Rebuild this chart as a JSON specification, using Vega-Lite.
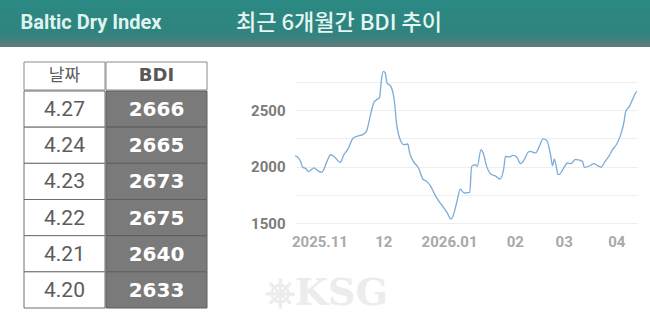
{
  "$schema": "https://vega.github.io/schema/vega-lite/v6.json",
  "padding": 0,
  "background": "white",
  "spacing": 15,
  "bounds": "flush",
  "config": {"view": {"stroke": null}},
  "datasets": {
    "table": [
      {"date": "4.27", "bdi": 2666},
      {"date": "4.24", "bdi": 2665},
      {"date": "4.23", "bdi": 2673},
      {"date": "4.22", "bdi": 2675},
      {"date": "4.21", "bdi": 2640},
      {"date": "4.20", "bdi": 2633}
    ],
    "bdi": [
      {"date": "2025-10-27", "bdi": 2097},
      {"date": "2025-10-28", "bdi": 2090},
      {"date": "2025-10-30", "bdi": 2046},
      {"date": "2025-10-31", "bdi": 1996},
      {"date": "2025-11-02", "bdi": 1979},
      {"date": "2025-11-03", "bdi": 1955},
      {"date": "2025-11-04", "bdi": 1964},
      {"date": "2025-11-06", "bdi": 1988},
      {"date": "2025-11-08", "bdi": 1966},
      {"date": "2025-11-10", "bdi": 1949},
      {"date": "2025-11-11", "bdi": 1964},
      {"date": "2025-11-13", "bdi": 2046},
      {"date": "2025-11-15", "bdi": 2105},
      {"date": "2025-11-17", "bdi": 2085},
      {"date": "2025-11-20", "bdi": 2037},
      {"date": "2025-11-22", "bdi": 2105},
      {"date": "2025-11-24", "bdi": 2150},
      {"date": "2025-11-27", "bdi": 2253},
      {"date": "2025-11-30", "bdi": 2274},
      {"date": "2025-12-02", "bdi": 2283},
      {"date": "2025-12-04", "bdi": 2312},
      {"date": "2025-12-06", "bdi": 2445},
      {"date": "2025-12-08", "bdi": 2569},
      {"date": "2025-12-10", "bdi": 2599},
      {"date": "2025-12-11", "bdi": 2613},
      {"date": "2025-12-12", "bdi": 2770},
      {"date": "2025-12-13", "bdi": 2844},
      {"date": "2025-12-14", "bdi": 2830},
      {"date": "2025-12-15", "bdi": 2741},
      {"date": "2025-12-17", "bdi": 2711},
      {"date": "2025-12-19", "bdi": 2564},
      {"date": "2025-12-20", "bdi": 2387},
      {"date": "2025-12-22", "bdi": 2238},
      {"date": "2025-12-24", "bdi": 2194},
      {"date": "2025-12-26", "bdi": 2200},
      {"date": "2025-12-27", "bdi": 2121},
      {"date": "2025-12-29", "bdi": 2046},
      {"date": "2026-01-01", "bdi": 1979},
      {"date": "2026-01-03", "bdi": 1890},
      {"date": "2026-01-05", "bdi": 1869},
      {"date": "2026-01-07", "bdi": 1831},
      {"date": "2026-01-09", "bdi": 1766},
      {"date": "2026-01-11", "bdi": 1707},
      {"date": "2026-01-13", "bdi": 1662},
      {"date": "2026-01-16", "bdi": 1589},
      {"date": "2026-01-18", "bdi": 1535},
      {"date": "2026-01-19", "bdi": 1559},
      {"date": "2026-01-21", "bdi": 1677},
      {"date": "2026-01-23", "bdi": 1801},
      {"date": "2026-01-25", "bdi": 1766},
      {"date": "2026-01-28", "bdi": 1771},
      {"date": "2026-01-29", "bdi": 2002},
      {"date": "2026-01-31", "bdi": 2017},
      {"date": "2026-02-01", "bdi": 2002},
      {"date": "2026-02-03", "bdi": 2150},
      {"date": "2026-02-04", "bdi": 2126},
      {"date": "2026-02-06", "bdi": 2002},
      {"date": "2026-02-08", "bdi": 1937},
      {"date": "2026-02-11", "bdi": 1913},
      {"date": "2026-02-13", "bdi": 1890},
      {"date": "2026-02-15", "bdi": 1973},
      {"date": "2026-02-16", "bdi": 2090},
      {"date": "2026-02-18", "bdi": 2085},
      {"date": "2026-02-20", "bdi": 2099},
      {"date": "2026-02-22", "bdi": 2085},
      {"date": "2026-02-24", "bdi": 2026},
      {"date": "2026-02-26", "bdi": 2061},
      {"date": "2026-02-28", "bdi": 2126},
      {"date": "2026-03-01", "bdi": 2135},
      {"date": "2026-03-04", "bdi": 2121},
      {"date": "2026-03-06", "bdi": 2179},
      {"date": "2026-03-08", "bdi": 2245},
      {"date": "2026-03-10", "bdi": 2232},
      {"date": "2026-03-12", "bdi": 2105},
      {"date": "2026-03-13", "bdi": 2008},
      {"date": "2026-03-14", "bdi": 2067},
      {"date": "2026-03-15", "bdi": 2002},
      {"date": "2026-03-16", "bdi": 1928},
      {"date": "2026-03-17", "bdi": 1934},
      {"date": "2026-03-19", "bdi": 1988},
      {"date": "2026-03-21", "bdi": 2032},
      {"date": "2026-03-23", "bdi": 2026},
      {"date": "2026-03-25", "bdi": 2061},
      {"date": "2026-03-26", "bdi": 2061},
      {"date": "2026-03-29", "bdi": 2046},
      {"date": "2026-03-30", "bdi": 1993},
      {"date": "2026-04-02", "bdi": 2008},
      {"date": "2026-04-04", "bdi": 2026},
      {"date": "2026-04-06", "bdi": 2008},
      {"date": "2026-04-08", "bdi": 1996},
      {"date": "2026-04-10", "bdi": 2046},
      {"date": "2026-04-12", "bdi": 2090},
      {"date": "2026-04-14", "bdi": 2150},
      {"date": "2026-04-16", "bdi": 2194},
      {"date": "2026-04-18", "bdi": 2268},
      {"date": "2026-04-20", "bdi": 2387},
      {"date": "2026-04-21", "bdi": 2489},
      {"date": "2026-04-23", "bdi": 2534},
      {"date": "2026-04-25", "bdi": 2608},
      {"date": "2026-04-26", "bdi": 2646},
      {"date": "2026-04-27", "bdi": 2666}
    ]
  },
  "vconcat": [
    {
      "width": 650,
      "height": 47,
      "data": {"values": [{"en": "Baltic Dry Index", "ko": "최근 6개월간 BDI 추이"}]},
      "layer": [
        {
          "mark": {
            "type": "rect",
            "fill": {"gradient": "linear", "x1": 0, "y1": 0, "x2": 0, "y2": 1,
              "stops": [
                {"offset": 0, "color": "#2b8983"},
                {"offset": 0.72, "color": "#30837f"},
                {"offset": 1, "color": "#5f7b7e"}
              ]}
          },
          "encoding": {}
        },
        {
          "mark": {"type": "text", "font": "Roboto", "fontSize": 20, "fontWeight": "bold", "color": "#dff4ef", "dx": -234, "dy": -1},
          "encoding": {"text": {"field": "en"}}
        },
        {
          "mark": {"type": "text", "font": "Noto Sans CJK KR", "fontSize": 22, "fontWeight": 500, "color": "#e6f7f3", "dx": 14, "dy": -1},
          "encoding": {"text": {"field": "ko"}}
        }
      ]
    },
    {
      "spacing": 10,
      "hconcat": [
        {
          "width": 13,
          "height": 1,
          "data": {"values": [{}]},
          "mark": {"type": "rect", "opacity": 0},
          "encoding": {}
        },
        {
          "spacing": -1,
          "hconcat": [
            {
              "spacing": -1,
              "vconcat": [
                {
                  "width": 81,
                  "height": 28,
                  "data": {"values": [{"h": "날짜"}]},
                  "layer": [
                    {"mark": {"type": "rect", "fill": "white", "stroke": "#8a8a8a", "strokeWidth": 1}, "encoding": {}},
                    {"mark": {"type": "text", "font": "Noto Sans CJK KR", "fontSize": 17, "color": "#5c5c5c"}, "encoding": {"text": {"field": "h"}}}
                  ]
                },
                {
                  "width": 81,
                  "height": 217,
                  "data": {"name": "table"},
                  "encoding": {
                    "y": {"field": "date", "type": "nominal", "sort": null,
                      "scale": {"paddingInner": 0, "paddingOuter": 0},
                      "axis": null}
                  },
                  "layer": [
                    {"mark": {"type": "rect", "fill": "white", "stroke": "#6e6e6e", "strokeWidth": 1}},
                    {"mark": {"type": "text", "font": "Roboto", "fontSize": 21, "color": "#5c5c5c", "dy": 1}, "encoding": {"text": {"field": "date"}}}
                  ]
                }
              ]
            },
            {
              "spacing": -1,
              "vconcat": [
                {
                  "width": 101,
                  "height": 28,
                  "data": {"values": [{"h": "BDI"}]},
                  "layer": [
                    {"mark": {"type": "rect", "fill": "white", "stroke": "#8a8a8a", "strokeWidth": 1}, "encoding": {}},
                    {"mark": {"type": "text", "font": "DejaVu Sans", "fontSize": 18, "fontWeight": "bold", "color": "#585858"}, "encoding": {"text": {"field": "h"}}}
                  ]
                },
                {
                  "width": 101,
                  "height": 217,
                  "data": {"name": "table"},
                  "encoding": {
                    "y": {"field": "date", "type": "nominal", "sort": null,
                      "scale": {"paddingInner": 0, "paddingOuter": 0},
                      "axis": null}
                  },
                  "layer": [
                    {"mark": {"type": "rect", "fill": "#7a7a7a", "stroke": "#5e5e5e", "strokeWidth": 1}},
                    {"mark": {"type": "text", "font": "DejaVu Sans", "fontSize": 20, "fontWeight": "bold", "color": "#ffffff", "dy": 1}, "encoding": {"text": {"field": "bdi", "type": "quantitative", "format": "d"}}}
                  ]
                }
              ]
            }
          ]
        },
        {
          "width": 342,
          "height": 161,
          "data": {"name": "bdi"},
          "title": {"text": "⎈KSG", "orient": "bottom", "anchor": "start", "frame": "group", "dx": -30, "offset": 26, "font": "DejaVu Serif", "fontSize": 38, "fontWeight": "bold", "color": "#ececec"},
          "mark": {"type": "line", "interpolate": "monotone", "color": "#7eaad8", "strokeWidth": 1.3},
          "encoding": {
            "x": {
              "field": "date", "type": "temporal",
              "scale": {"type": "utc", "nice": false,
                "domain": [{"year": 2025, "month": 10, "date": 27, "utc": true}, {"year": 2026, "month": 4, "date": 27, "utc": true}]},
              "axis": {
                "values": [
                  {"year": 2025, "month": 11, "date": 9, "utc": true},
                  {"year": 2025, "month": 12, "date": 13, "utc": true},
                  {"year": 2026, "month": 1, "date": 17, "utc": true},
                  {"year": 2026, "month": 2, "date": 21, "utc": true},
                  {"year": 2026, "month": 3, "date": 19, "utc": true},
                  {"year": 2026, "month": 4, "date": 16, "utc": true}
                ],
                "labelExpr": "(utcmonth(datum.value) == 10 || utcmonth(datum.value) == 0) ? utcFormat(datum.value, '%Y.%m') : utcFormat(datum.value, '%m')",
                "grid": false, "ticks": false, "domain": false, "title": null,
                "labelPadding": 11, "labelColor": "#a9a9a9", "labelFont": "Roboto", "labelFontSize": 15, "labelFontWeight": "bold",
                "labelOverlap": false, "labelFlush": false
              }
            },
            "y": {
              "field": "bdi", "type": "quantitative",
              "scale": {"domain": [1500, 2927], "nice": false, "zero": false},
              "axis": {
                "values": [1500, 1750, 2000, 2250, 2500, 2750],
                "format": "d",
                "labelExpr": "datum.value % 500 == 0 ? datum.label : ''",
                "grid": true, "gridColor": "#eeeeee", "gridWidth": 1,
                "ticks": false, "domain": false, "title": null,
                "labelPadding": 10, "labelColor": "#7b7b7b", "labelFont": "Roboto", "labelFontSize": 15, "labelFontWeight": "bold",
                "minExtent": 77, "maxExtent": 77
              }
            }
          }
        }
      ]
    }
  ]
}
